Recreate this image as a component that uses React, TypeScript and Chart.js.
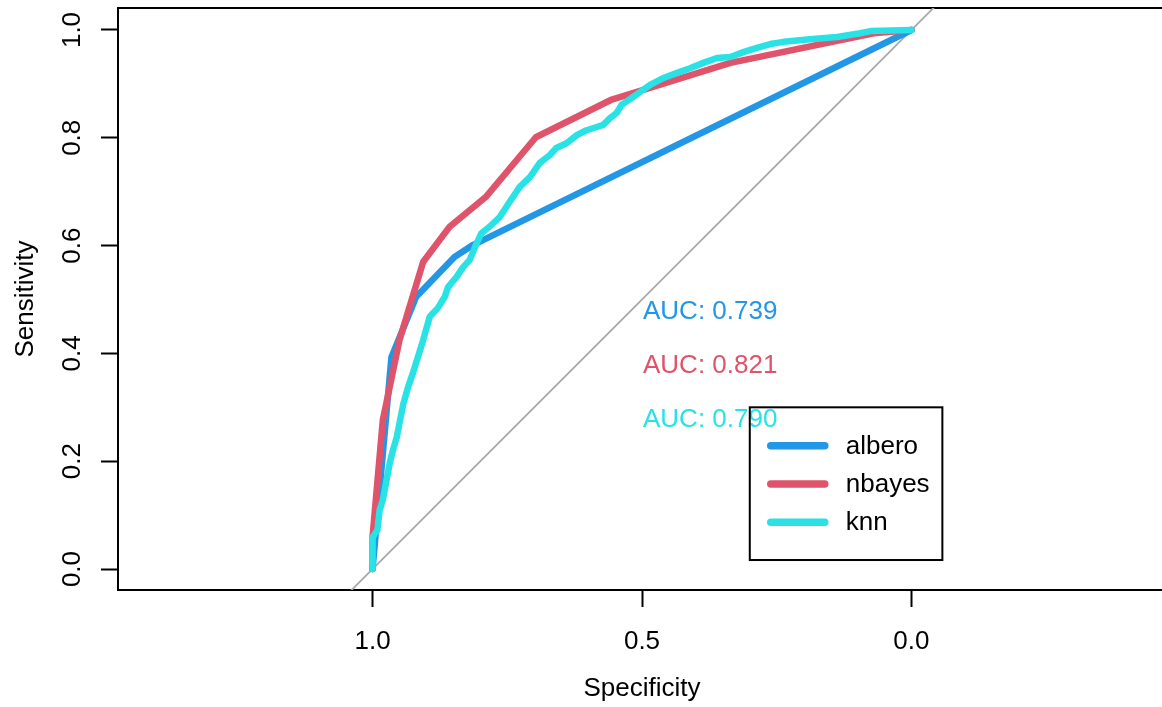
import React, { useEffect, useRef } from "react";
import { Chart, registerables } from "chart.js";

Chart.register(...registerables);

// ---- data ----
const specTicks = [0, 0.5, 1.0];
const sensTicks = [0, 0.2, 0.4, 0.6, 0.8, 1.0];

const modelNames = ["albero", "nbayes", "knn"];
const aucValues = [0.739, 0.821, 0.79];

const alberoSpec = [1.0, 0.965, 0.919, 0.848, 0.814, 0.0];
const alberoSens = [0.0, 0.393, 0.505, 0.579, 0.601, 1.0];

const nbayesSpec = [1.0, 1.0, 0.981, 0.95, 0.906, 0.857, 0.79, 0.697, 0.556, 0.336, 0.07, 0.0];
const nbayesSens = [0.0, 0.06, 0.276, 0.425, 0.57, 0.635, 0.69, 0.801, 0.871, 0.939, 0.994, 1.0];

const knnSpec = [
  1.0, 1.0, 0.991, 0.987, 0.981, 0.974, 0.968, 0.962, 0.955, 0.949,
  0.943, 0.934, 0.925, 0.916, 0.906, 0.894, 0.879, 0.866, 0.86, 0.844,
  0.832, 0.82, 0.81, 0.798, 0.783, 0.764, 0.747, 0.733, 0.727, 0.708,
  0.69, 0.671, 0.659, 0.64, 0.621, 0.603, 0.584, 0.572, 0.559, 0.547,
  0.538, 0.522, 0.498, 0.485, 0.46, 0.436, 0.411, 0.386, 0.361, 0.336,
  0.312, 0.287, 0.262, 0.237, 0.188, 0.138, 0.095, 0.076, 0.0,
];
const knnSens = [
  0.0, 0.059, 0.072, 0.109, 0.128, 0.165, 0.197, 0.221, 0.245, 0.276,
  0.306, 0.338, 0.364, 0.393, 0.425, 0.468, 0.484, 0.505, 0.523, 0.542,
  0.56, 0.573, 0.597, 0.623, 0.635, 0.653, 0.679, 0.7, 0.709, 0.727,
  0.753, 0.768, 0.781, 0.79, 0.805, 0.814, 0.82, 0.824, 0.837, 0.846,
  0.861, 0.872, 0.889, 0.898, 0.911, 0.92, 0.929, 0.939, 0.948, 0.95,
  0.959, 0.967, 0.974, 0.978, 0.983, 0.987, 0.994, 0.998, 1.0,
];

// axis limits (R expanded, asp = 1)
const xMin = -0.4724;
const xMax = 1.4724;
const yMin = -0.0389;
const yMax = 1.0408;

// auc text positions (specificity, sensitivity) and legend corner
const aucX = 0.5;
const aucY = [0.5, 0.4, 0.3];
const legendX = 0.3;
const legendY = 0.3;

// ---- styles ----
const colors = ["#2297E6", "#DF536B", "#28E2E5"];
const FONT = "'Liberation Sans', Arial, Helvetica, sans-serif";
const FS = 26;

function pts(xs: number[], ys: number[]) {
  return xs.map((x, i) => ({ x, y: ys[i] }));
}

const rocDecor = {
  id: "rocDecor",
  beforeDatasetsDraw(chart: any) {
    const { ctx, chartArea: a } = chart;
    ctx.save();
    ctx.strokeStyle = "#000";
    ctx.lineWidth = 2;
    ctx.strokeRect(a.left, a.top, a.right - a.left, a.bottom - a.top);
    const ys = chart.scales.y;
    ctx.fillStyle = "#000";
    ctx.font = `${FS}px ${FONT}`;
    ctx.textAlign = "center";
    ctx.textBaseline = "alphabetic";
    ys.ticks.forEach((t: any) => {
      const py = ys.getPixelForValue(t.value);
      ctx.save();
      ctx.translate(a.left - 38, py);
      ctx.rotate(-Math.PI / 2);
      ctx.fillText(Number(t.value).toFixed(1), 0, 0);
      ctx.restore();
    });
    ctx.restore();
  },
  afterDatasetsDraw(chart: any) {
    const { ctx } = chart;
    const xs = chart.scales.x;
    const ys = chart.scales.y;
    ctx.save();
    ctx.font = `${FS}px ${FONT}`;
    ctx.textAlign = "left";
    ctx.textBaseline = "alphabetic";
    // AUC labels
    aucValues.forEach((v, i) => {
      ctx.fillStyle = colors[i];
      const px = xs.getPixelForValue(aucX);
      const py = ys.getPixelForValue(aucY[i]);
      ctx.fillText(`AUC: ${v.toFixed(3)}`, px + 1, py + 0.716 * FS + 1);
    });
    // legend
    const lx = xs.getPixelForValue(legendX);
    const ly = ys.getPixelForValue(legendY);
    const w = 192.6;
    const h = 152.7;
    ctx.strokeStyle = "#000";
    ctx.lineWidth = 2;
    ctx.strokeRect(lx, ly, w, h);
    modelNames.forEach((name, i) => {
      const ry = ly + 38.4 + i * 38.3;
      ctx.strokeStyle = colors[i];
      ctx.lineWidth = 7.5;
      ctx.lineCap = "round";
      ctx.beginPath();
      ctx.moveTo(lx + 21, ry);
      ctx.lineTo(lx + 75, ry);
      ctx.stroke();
      ctx.fillStyle = "#000";
      ctx.textBaseline = "middle";
      ctx.fillText(name, lx + 96, ry + 1);
    });
    ctx.restore();
  },
};

export default function App() {
  const ref = useRef<HTMLCanvasElement | null>(null);

  useEffect(() => {
    if (!ref.current) return;
    const lineDs = (label: string, data: any[], color: string, order: number) => ({
      label,
      data,
      borderColor: color,
      backgroundColor: color,
      borderWidth: 6.5,
      pointRadius: 0,
      tension: 0,
      fill: false,
      borderCapStyle: "round",
      borderJoinStyle: "round",
      order,
    });
    const chart = new Chart(ref.current, {
      type: "line",
      data: {
        datasets: [
          {
            label: "diag",
            data: [
              { x: xMax, y: 1 - xMax },
              { x: xMin, y: 1 - xMin },
            ],
            borderColor: "#A9A9A9",
            borderWidth: 1.8,
            pointRadius: 0,
            fill: false,
            clip: 0,
            order: 4,
          } as any,
          lineDs(modelNames[0], pts(alberoSpec, alberoSens), colors[0], 3),
          lineDs(modelNames[1], pts(nbayesSpec, nbayesSens), colors[1], 2),
          lineDs(modelNames[2], pts(knnSpec, knnSens), colors[2], 1),
        ],
      },
      options: {
        responsive: false,
        animation: false,
        devicePixelRatio: 1,
        parsing: true,
        layout: { padding: { top: 8, right: 2, left: 0, bottom: 0 } },
        plugins: {
          legend: { display: false },
          tooltip: { enabled: false },
        },
        scales: {
          x: {
            type: "linear",
            reverse: true,
            min: xMin,
            max: xMax,
            afterBuildTicks: (s: any) => {
              s.ticks = specTicks.map((v) => ({ value: v }));
            },
            afterFit: (s: any) => {
              s.height = 117;
            },
            ticks: {
              color: "#000",
              font: { family: FONT, size: FS },
              padding: 19,
              maxRotation: 0,
              callback: (v: any) => Number(v).toFixed(1),
            },
            grid: {
              drawOnChartArea: false,
              drawTicks: true,
              tickLength: 17,
              tickColor: "#000",
              tickWidth: 2,
            },
            border: { display: false },
            title: {
              display: true,
              text: "Specificity",
              color: "#000",
              font: { family: FONT, size: FS },
              padding: { top: 0, bottom: 2.4 },
            },
          },
          y: {
            type: "linear",
            min: yMin,
            max: yMax,
            afterBuildTicks: (s: any) => {
              s.ticks = sensTicks.map((v) => ({ value: v }));
            },
            afterFit: (s: any) => {
              s.width = 118;
            },
            ticks: { display: false },
            grid: {
              drawOnChartArea: false,
              drawTicks: true,
              tickLength: 17,
              tickColor: "#000",
              tickWidth: 2,
            },
            border: { display: false },
            title: {
              display: true,
              text: "Sensitivity",
              color: "#000",
              font: { family: FONT, size: FS },
              padding: { top: 10, bottom: 0 },
            },
          },
        },
      } as any,
      plugins: [rocDecor],
    });
    return () => chart.destroy();
  }, []);

  return (
    <div
      style={{
        position: "fixed",
        left: 0,
        top: 0,
        width: 1162,
        height: 707,
        overflow: "hidden",
        background: "#fff",
      }}
    >
      <canvas ref={ref} width={1168} height={707} style={{ display: "block" }} />
    </div>
  );
}
